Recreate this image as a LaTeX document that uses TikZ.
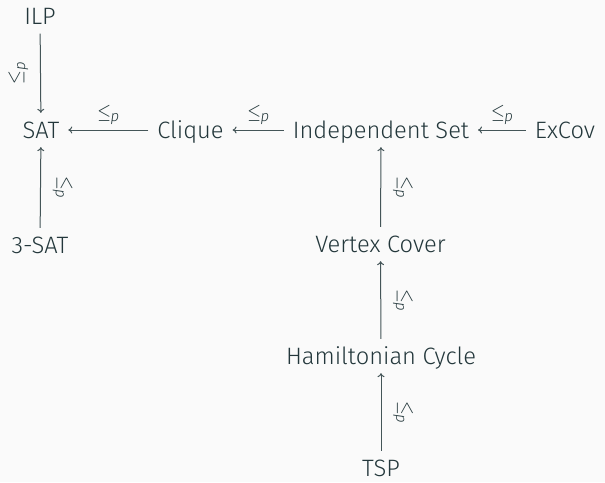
\documentclass[tikz,border=0pt]{standalone}
\usepackage{fontspec}
\setmainfont{Fira Sans}[UprightFont=* Light, ItalicFont=* Light Italic]
\usetikzlibrary{arrows.meta}
\definecolor{mdark}{HTML}{23373B}
\definecolor{mbg}{HTML}{FAFAFA}
\newcommand{\redp}{{\fontsize{20}{20}\selectfont\scalebox{0.85}[1]{$\leq$}\kern-0.5pt\raisebox{-3.5pt}[0pt][0pt]{\fontsize{15}{15}\selectfont\itshape p}}}
\begin{document}
\begin{tikzpicture}[x=1pt,y=-1pt,
  prob/.style={text=mdark,font=\fontsize{23.7}{28}\selectfont,inner sep=0pt,outer sep=9pt,text height=16.3pt,text depth=0pt},
  red/.style={-{To[length=4pt,width=7pt]},draw=mdark!85,line width=1pt},
  lab/.style={text=mdark,inner sep=0pt,outer sep=9pt},
  vlab/.style={lab,outer sep=16pt,anchor=south}]
\fill[mbg] (0,0) rectangle (605,482);
\useasboundingbox (0,0) rectangle (605,482);
\node[prob] (ilp) at (40,16.5) {ILP};
\node[prob] (sat) at (41,130) {SAT};
\node[prob] (tsat) at (40,245) {3-SAT};
\node[prob] (clq) at (190.5,130) {Clique};
\node[prob] (is) at (381,130) {Independent Set};
\node[prob] (exc) at (565,130) {ExCov};
\node[prob] (vc) at (380.5,244) {Vertex Cover};
\node[prob] (hc) at (381,356) {Hamiltonian Cycle};
\node[prob] (tsp) at (381,468) {TSP};
\draw[red] (ilp) -- node[vlab,rotate=90] {\redp} (sat);
\draw[red] (tsat) -- node[vlab,rotate=-90] {\redp} (sat);
\draw[red] (clq) -- node[lab,above] {\redp} (sat);
\draw[red] (is) -- node[lab,above] {\redp} (clq);
\draw[red] (exc) -- node[lab,above] {\redp} (is);
\draw[red] (vc) -- node[vlab,rotate=-90] {\redp} (is);
\draw[red] (hc) -- node[vlab,rotate=-90] {\redp} (vc);
\draw[red] (tsp) -- node[vlab,rotate=-90] {\redp} (hc);
\end{tikzpicture}
\end{document}
